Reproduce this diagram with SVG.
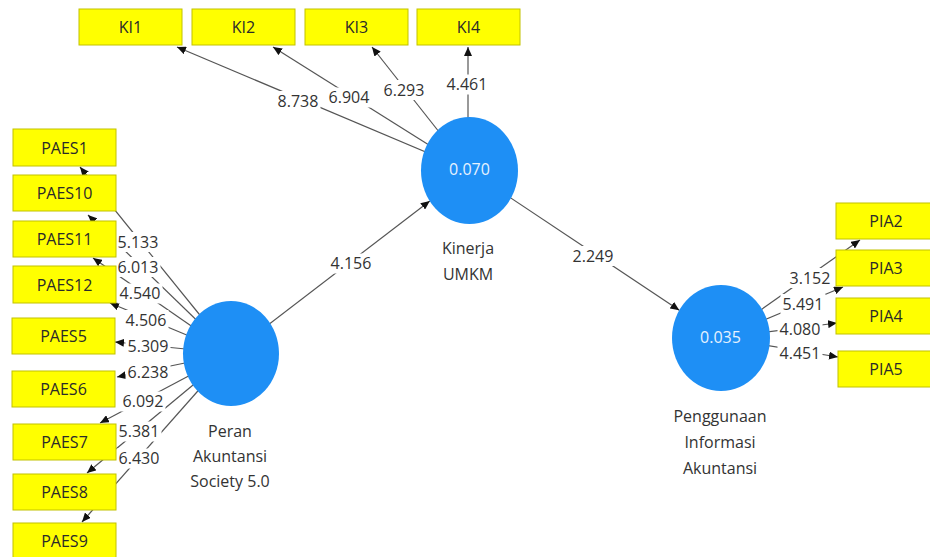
<svg xmlns="http://www.w3.org/2000/svg" width="930" height="557" viewBox="0 0 930 557">
<style>
.box{fill:#FFFF00;stroke:#c2c200;stroke-width:1}
.bt{font-family:"Open Sans","Noto Sans",sans-serif;font-size:16px;fill:#2a2a2a;text-anchor:middle}
.lv{fill:#1E8FF5}
.lt{font-family:"Open Sans","Noto Sans",sans-serif;font-size:16px;fill:#e6f2ff;text-anchor:middle}
.cap{font-family:"Open Sans","Noto Sans",sans-serif;font-size:16px;fill:#333;text-anchor:middle}
.ln{stroke:#555;stroke-width:1.2;fill:none;marker-end:url(#ah)}
.lb{fill:#fff}
.num{font-family:"Open Sans","Noto Sans",sans-serif;font-size:16px;fill:#333;text-anchor:middle}
</style>
<defs>
<marker id="ah" markerUnits="userSpaceOnUse" markerWidth="9" markerHeight="8" refX="9" refY="4" orient="auto">
<path d="M0,0 L9,4 L0,8 z" fill="#111"/>
</marker>
</defs>
<rect width="930" height="557" fill="#fff"/>
<g id="connectors">
<line class="ln" x1="469.5" y1="170.5" x2="177" y2="47"/>
<line class="ln" x1="469.5" y1="170.5" x2="273" y2="47"/>
<line class="ln" x1="469.5" y1="170.5" x2="372" y2="47"/>
<line class="ln" x1="468" y1="170.5" x2="468" y2="47"/>
<line class="ln" x1="231" y1="353.5" x2="80" y2="167"/>
<line class="ln" x1="231" y1="353.5" x2="88" y2="215"/>
<line class="ln" x1="231" y1="353.5" x2="93" y2="258"/>
<line class="ln" x1="231" y1="353.5" x2="110" y2="303"/>
<line class="ln" x1="231" y1="353.5" x2="115" y2="342"/>
<line class="ln" x1="231" y1="353.5" x2="117" y2="377"/>
<line class="ln" x1="231" y1="353.5" x2="100" y2="423"/>
<line class="ln" x1="231" y1="353.5" x2="87" y2="473"/>
<line class="ln" x1="231" y1="353.5" x2="82" y2="522"/>
<line class="ln" x1="231" y1="353.5" x2="429.8" y2="200.9"/>
<line class="ln" x1="469.5" y1="170.5" x2="679.3" y2="310.2"/>
<line class="ln" x1="721" y1="338" x2="860" y2="240"/>
<line class="ln" x1="721" y1="338" x2="843" y2="287"/>
<line class="ln" x1="721" y1="338" x2="837" y2="323"/>
<line class="ln" x1="721" y1="338" x2="838" y2="357"/>
<g id="labels">
<rect class="lb" x="275.5" y="91" width="45" height="20"/><text class="num" x="298" y="106.7">8.738</text>
<rect class="lb" x="326.5" y="87.5" width="45" height="20"/><text class="num" x="349" y="103.2">6.904</text>
<rect class="lb" x="381.5" y="80" width="45" height="20"/><text class="num" x="404" y="95.7">6.293</text>
<rect class="lb" x="444.5" y="74.5" width="45" height="20"/><text class="num" x="467" y="90.2">4.461</text>
<rect class="lb" x="115.5" y="232" width="45" height="20"/><text class="num" x="138" y="247.7">5.133</text>
<rect class="lb" x="115.5" y="257" width="45" height="20"/><text class="num" x="138" y="272.7">6.013</text>
<rect class="lb" x="117.5" y="283.5" width="45" height="20"/><text class="num" x="140" y="299.2">4.540</text>
<rect class="lb" x="123.5" y="310" width="45" height="20"/><text class="num" x="146" y="325.7">4.506</text>
<rect class="lb" x="125.5" y="336.5" width="45" height="20"/><text class="num" x="148" y="352.2">5.309</text>
<rect class="lb" x="125.5" y="362.5" width="45" height="20"/><text class="num" x="148" y="378.2">6.238</text>
<rect class="lb" x="120.5" y="391.5" width="45" height="20"/><text class="num" x="143" y="407.2">6.092</text>
<rect class="lb" x="116.5" y="421.5" width="45" height="20"/><text class="num" x="139" y="437.2">5.381</text>
<rect class="lb" x="116.5" y="448.5" width="45" height="20"/><text class="num" x="139" y="464.2">6.430</text>
<rect class="lb" x="328.5" y="253.5" width="45" height="20"/><text class="num" x="351" y="269.2">4.156</text>
<rect class="lb" x="570.5" y="246" width="45" height="20"/><text class="num" x="593" y="261.7">2.249</text>
<rect class="lb" x="787.5" y="268" width="45" height="20"/><text class="num" x="810" y="283.7">3.152</text>
<rect class="lb" x="780.5" y="294" width="45" height="20"/><text class="num" x="803" y="309.7">5.491</text>
<rect class="lb" x="777.5" y="319.5" width="45" height="20"/><text class="num" x="800" y="335.2">4.080</text>
<rect class="lb" x="777.5" y="343.5" width="45" height="20"/><text class="num" x="800" y="359.2">4.451</text>
</g>
</g>
<g id="KI1"><rect class="box" x="79" y="9" width="103" height="36"/><text class="bt" x="130.5" y="33">KI1</text></g>
<g id="KI2"><rect class="box" x="192" y="9" width="103" height="36"/><text class="bt" x="243.5" y="33">KI2</text></g>
<g id="KI3"><rect class="box" x="305" y="9" width="103" height="36"/><text class="bt" x="356.5" y="33">KI3</text></g>
<g id="KI4"><rect class="box" x="417" y="9" width="103" height="36"/><text class="bt" x="468.5" y="33">KI4</text></g>
<g id="PAES1"><rect class="box" x="13" y="129" width="103" height="37"/><text class="bt" x="64.5" y="153.5">PAES1</text></g>
<g id="PAES10"><rect class="box" x="13" y="175" width="103" height="36"/><text class="bt" x="64.5" y="199">PAES10</text></g>
<g id="PAES11"><rect class="box" x="13" y="221" width="103" height="36"/><text class="bt" x="64.5" y="245">PAES11</text></g>
<g id="PAES12"><rect class="box" x="13" y="266" width="103" height="37"/><text class="bt" x="64.5" y="290.5">PAES12</text></g>
<g id="PAES5"><rect class="box" x="12" y="318" width="103" height="36"/><text class="bt" x="63.5" y="342">PAES5</text></g>
<g id="PAES6"><rect class="box" x="12" y="371" width="103" height="36"/><text class="bt" x="63.5" y="395">PAES6</text></g>
<g id="PAES7"><rect class="box" x="13" y="424" width="103" height="36"/><text class="bt" x="64.5" y="448">PAES7</text></g>
<g id="PAES8"><rect class="box" x="13" y="474" width="103" height="36"/><text class="bt" x="64.5" y="498">PAES8</text></g>
<g id="PAES9"><rect class="box" x="13" y="523" width="103" height="36"/><text class="bt" x="64.5" y="547">PAES9</text></g>
<g id="PIA2"><rect class="box" x="836" y="203" width="103" height="36"/><text class="bt" x="886" y="227">PIA2</text></g>
<g id="PIA3"><rect class="box" x="836" y="250" width="103" height="36"/><text class="bt" x="886" y="274">PIA3</text></g>
<g id="PIA4"><rect class="box" x="836" y="298" width="103" height="36"/><text class="bt" x="886" y="322">PIA4</text></g>
<g id="PIA5"><rect class="box" x="838" y="351" width="103" height="36"/><text class="bt" x="886" y="375">PIA5</text></g>
<g id="Kinerja"><ellipse class="lv" cx="469.5" cy="170.5" rx="48.5" ry="53.5"/><text class="lt" x="469.5" y="175">0.070</text><text class="cap" x="468" y="254">Kinerja</text><text class="cap" x="468" y="280">UMKM</text></g>
<g id="Peran"><ellipse class="lv" cx="231" cy="353.5" rx="48" ry="52.5"/><text class="cap" x="230" y="437">Peran</text><text class="cap" x="230" y="462">Akuntansi</text><text class="cap" x="230" y="487">Society 5.0</text></g>
<g id="Penggunaan"><ellipse class="lv" cx="721" cy="338" rx="49" ry="53"/><text class="lt" x="720.5" y="343">0.035</text><text class="cap" x="720" y="422">Penggunaan</text><text class="cap" x="720" y="448">Informasi</text><text class="cap" x="720" y="473.5">Akuntansi</text></g>
</svg>
